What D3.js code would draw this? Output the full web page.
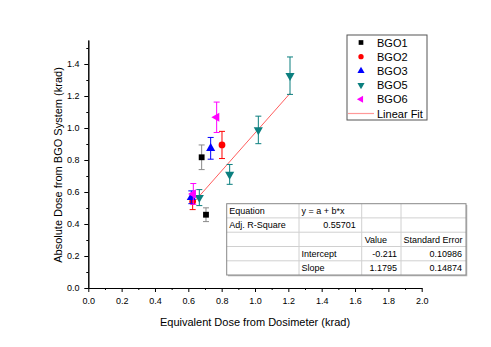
<!DOCTYPE html>
<html><head><meta charset="utf-8">
<script src="https://cdn.jsdelivr.net/npm/d3@7"></script>
<style>body{margin:0;background:#fff}svg{font-family:"Liberation Sans",Arial,sans-serif}</style>
</head><body><svg id="c" width="491" height="347"></svg>
<script>
const seriesNames = ["BGO1","BGO2","BGO3","BGO5","BGO6"];
const seriesColors = ["#000000","#ff0000","#0000ff","#0b7f7f","#ff00ff"];
const errColors = ["#8a8a8a","#ff0000","#0000ff","#0b7f7f","#ff00ff"];
const bgo1 = [{x:0.680,y:0.817,e:0.077},{x:0.706,y:0.458,e:0.043}];
const bgo2 = [{x:0.802,y:0.894,e:0.085},{x:0.626,y:0.540,e:0.050}];
const bgo3 = [{x:0.734,y:0.873,e:0.068},{x:0.618,y:0.567,e:0.040}];
const bgo5 = [{x:1.210,y:1.327,e:0.117},{x:1.020,y:0.988,e:0.086},{x:0.848,y:0.710,e:0.062},{x:0.666,y:0.565,e:0.050}];
const bgo6 = [{x:0.770,y:1.067,e:0.095},{x:0.630,y:0.588,e:0.065}];
const fitIntercept = -0.211, fitSlope = 1.1795;
const xTicks = [0.0,0.2,0.4,0.6,0.8,1.0,1.2,1.4,1.6,1.8,2.0];
const yTicks = [0.0,0.2,0.4,0.6,0.8,1.0,1.2,1.4];
const tableRows = [
  ["Equation","y = a + b*x","",""],
  ["Adj. R-Square","0.55701","",""],
  ["","","Value","Standard Error"],
  ["","Intercept","-0.211","0.10986"],
  ["","Slope","1.1795","0.14874"]
];
const allSeries = [bgo1,bgo2,bgo3,bgo5,bgo6];

const svg = d3.select("#c");
const x = d3.scaleLinear().domain([0,2]).range([88.3,421.7]);
const y = d3.scaleLinear().domain([0,1.55]).range([288,40]);

// axes
const xAxis = d3.axisBottom(x).tickValues(xTicks).tickFormat(d3.format(".1f")).tickSize(4).tickSizeOuter(0);
const xMinor = d3.axisBottom(x).tickValues(d3.range(0.1,2,0.2)).tickFormat("").tickSize(2).tickSizeOuter(0);
const yAxis = d3.axisLeft(y).tickValues(yTicks).tickFormat(d3.format(".1f")).tickSize(4).tickSizeOuter(0);
const yMinor = d3.axisLeft(y).tickValues(d3.range(0.1,1.55,0.2)).tickFormat("").tickSize(2).tickSizeOuter(0);
function style(g){g.selectAll("path,line").attr("stroke","#000").attr("stroke-width",1);g.selectAll("text").attr("font-size",9).attr("fill","#000").attr("font-family","Liberation Sans, Arial, sans-serif");}
svg.append("g").attr("transform","translate(0,288)").call(xMinor).call(style);
svg.append("g").attr("transform","translate(0,288)").call(xAxis).call(style).selectAll("text").attr("dy","1.0em");
svg.append("g").attr("transform","translate(88.3,0)").call(yMinor).call(style);
svg.append("g").attr("transform","translate(88.3,0)").call(yAxis).call(style).selectAll("text").attr("dx","-0.2em");

svg.append("text").attr("x",255).attr("y",326).attr("text-anchor","middle").attr("font-size",11).text("Equivalent Dose from Dosimeter (krad)");
svg.append("text").attr("transform","translate(62,165) rotate(-90)").attr("text-anchor","middle").attr("font-size",11).text("Absolute Dose from BGO System (krad)");

// fit line
const allX = allSeries.flat().map(d=>d.x);
const fx = d3.extent(allX);
svg.append("line").attr("x1",x(fx[0])).attr("y1",y(fitIntercept+fitSlope*fx[0]))
  .attr("x2",x(fx[1])).attr("y2",y(fitIntercept+fitSlope*fx[1]))
  .attr("stroke","#ff3333").attr("stroke-width",0.8);

// symbols
const symTypes = [d3.symbolSquare,d3.symbolCircle,d3.symbolTriangle,d3.symbolTriangle,d3.symbolTriangle];
const symRot = [0,0,0,180,-90];
const symSize = [34,36,36,36,36];
allSeries.forEach((s,i)=>{
  const g = svg.append("g");
  s.forEach(d=>{
    const cx=x(d.x), top=y(d.y+d.e), bot=y(d.y-d.e);
    g.append("line").attr("x1",cx).attr("x2",cx).attr("y1",top).attr("y2",bot).attr("stroke",errColors[i]).attr("stroke-width",1);
    g.append("line").attr("x1",cx-3).attr("x2",cx+3).attr("y1",top).attr("y2",top).attr("stroke",errColors[i]).attr("stroke-width",1);
    g.append("line").attr("x1",cx-3).attr("x2",cx+3).attr("y1",bot).attr("y2",bot).attr("stroke",errColors[i]).attr("stroke-width",1);
    g.append("path").attr("d",d3.symbol().type(symTypes[i]).size(symSize[i])())
      .attr("transform",`translate(${cx},${y(d.y)}) rotate(${symRot[i]})`).attr("fill",seriesColors[i]);
  });
});

// legend
const lg = svg.append("g");
lg.append("rect").attr("x",347).attr("y",35).attr("width",80).attr("height",85).attr("fill","#fff").attr("stroke","#555").attr("stroke-width",1);
seriesNames.forEach((n,i)=>{
  const ly = 42.5 + i*14.2;
  lg.append("path").attr("d",d3.symbol().type(symTypes[i]).size(22)()).attr("transform",`translate(361,${ly}) rotate(${symRot[i]})`).attr("fill",seriesColors[i]);
  lg.append("text").attr("x",377).attr("y",ly+4).attr("font-size",11).text(n);
});
const fy = 42.5 + 5*14.2;
lg.append("line").attr("x1",348).attr("x2",374).attr("y1",fy).attr("y2",fy).attr("stroke","#ff9999").attr("stroke-width",1.2);
lg.append("text").attr("x",377).attr("y",fy+4).attr("font-size",11).text("Linear Fit");

// table
const colX = [226.7,299,361.7,401,466];
const rowY = [203.7,217.9,232.2,246.5,260.8,275];
const tg = svg.append("g");
tg.append("rect").attr("x",228).attr("y",205).attr("width",colX[4]-colX[0]).attr("height",rowY[5]-rowY[0]).attr("fill","#bbb");
tg.append("rect").attr("x",colX[0]).attr("y",rowY[0]).attr("width",colX[4]-colX[0]).attr("height",rowY[5]-rowY[0]).attr("fill","#fff");
for(let r=1;r<5;r++) tg.append("line").attr("x1",colX[0]).attr("x2",colX[4]).attr("y1",rowY[r]).attr("y2",rowY[r]).attr("stroke","#d0d0d0");
[1,2,3].forEach(c=>tg.append("line").attr("x1",colX[c]).attr("x2",colX[c]).attr("y1",rowY[0]).attr("y2",rowY[5]).attr("stroke","#d0d0d0"));
tg.append("rect").attr("x",colX[0]).attr("y",rowY[0]).attr("width",colX[4]-colX[0]).attr("height",rowY[5]-rowY[0]).attr("fill","none").attr("stroke","#888");
tableRows.forEach((row,r)=>{
  const ty = rowY[r]+10.5;
  row.forEach((t,c)=>{
    if(!t) return;
    let anchor="start", tx=colX[c]+2.5;
    if(r===1 && c===1){anchor="end"; tx=colX[2]-6;}
    else if(r>=3 && c>=2){anchor="end"; tx=colX[c+1]-4;}
    else if(r===2 && c===2){tx=colX[c]+3;}
    tg.append("text").attr("x",tx).attr("y",ty).attr("text-anchor",anchor).attr("font-size",9).text(t);
  });
});
</script></body></html>
